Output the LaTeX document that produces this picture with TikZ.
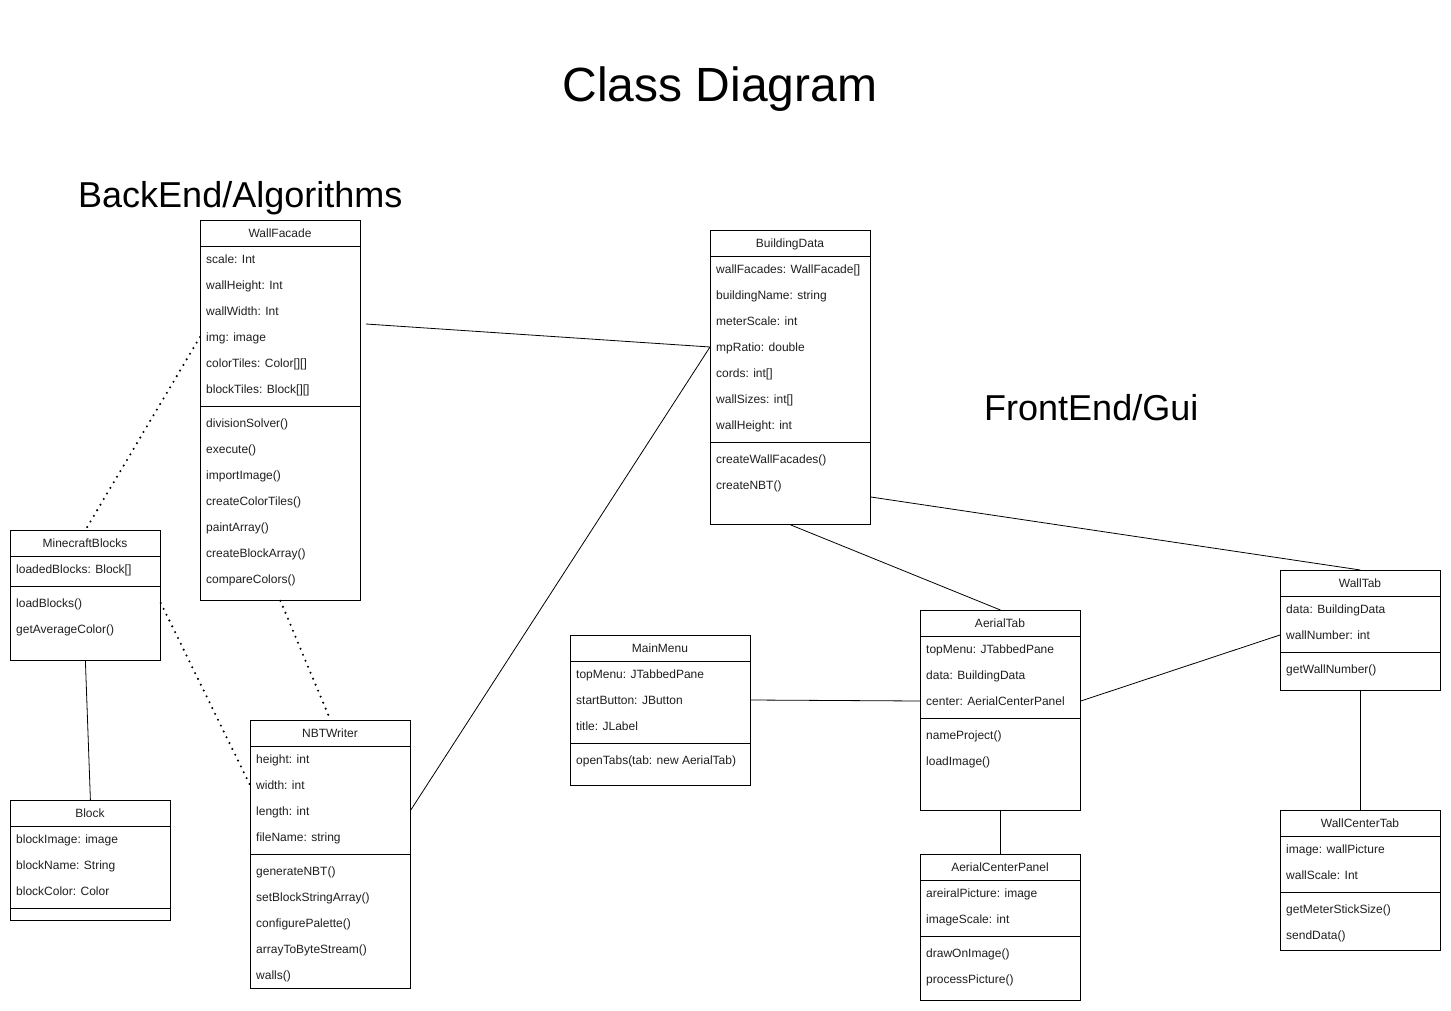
\documentclass[tikz,border=0pt]{standalone}
\usepackage{fontspec}
\setmainfont{Liberation Sans}
\usetikzlibrary{calc}
\tikzset{
  classbox/.style={draw=black, line width=0.8pt, fill=white, rectangle, inner sep=0pt, anchor=north west},
  divider/.style={draw=black, line width=0.8pt},
  attr/.style={anchor=base west, inner sep=0pt, text=black!88, font=\fontsize{12}{14}\selectfont},
  ctitle/.style={anchor=base, inner sep=0pt, text=black!88, font=\fontsize{12}{14}\selectfont},
  assoc/.style={draw=black, line width=0.8pt},
  dep/.style={draw=black, line width=2.3pt, line cap=round, dash pattern=on 0pt off 6.5pt},
  bigtitle/.style={anchor=base, inner sep=0pt, font=\fontsize{48}{56}\selectfont},
  sectitle/.style={anchor=base west, inner sep=0pt, font=\fontsize{36}{42}\selectfont},
}
% #1 name, #2 x, #3 y, #4 w, #5 h, #6 title
\newcommand\umlcls[6]{%
  \node[classbox, minimum width=#4pt, minimum height=#5pt] (#1) at (#2,#3) {};
  \node[ctitle] (#1-t) at (#2+#4/2,#3+17.5) {#6};
  \draw[divider] (#2,#3+26) -- (#2+#4,#3+26);
}
% #1 name prefix, #2 x, #3 first row y (centre), #4 list
\newcommand\umlrows[4]{%
  \foreach \txt [count=\i from 0] in {#4} {
    \node[attr] (#1-\i) at (#2+6,#3+4.5+26*\i) {\txt};
  }
}
\newcommand\umlsep[3]{\draw[divider] (#1,#3) -- (#1+#2,#3);}
\begin{document}
\begin{tikzpicture}[x=1pt,y=-1pt]
\useasboundingbox (0,0) rectangle (1451,1011);
\fill[white] (0,0) rectangle (1451,1011);

% titles
\node[bigtitle] (title) at (720,102) {Class Diagram};
\node[sectitle] (back) at (78,208) {BackEnd/Algorithms};
\node[sectitle] (front) at (984,420) {FrontEnd/Gui};

% WallFacade
\umlcls{wf}{200}{220}{160}{380}{WallFacade}
\umlrows{wfa}{200}{259}{{scale: Int},{wallHeight: Int},{wallWidth: Int},{img: image},{colorTiles: Color[][]},{blockTiles: Block[][]}}
\umlsep{200}{160}{406}
\umlrows{wfm}{200}{423}{{divisionSolver()},{execute()},{importImage()},{createColorTiles()},{paintArray()},{createBlockArray()},{compareColors()}}

% MinecraftBlocks
\umlcls{mb}{10}{530}{150}{130}{MinecraftBlocks}
\umlrows{mba}{10}{569}{{loadedBlocks: Block[]}}
\umlsep{10}{150}{586}
\umlrows{mbm}{10}{603}{{loadBlocks()},{getAverageColor()}}

% Block
\umlcls{bl}{10}{800}{160}{120}{Block}
\umlrows{bla}{10}{839}{{blockImage: image},{blockName: String},{blockColor: Color}}
\umlsep{10}{160}{908}

% NBTWriter
\umlcls{nbt}{250}{720}{160}{268}{NBTWriter}
\umlrows{nbta}{250}{759}{{height: int},{width: int},{length: int},{fileName: string}}
\umlsep{250}{160}{854}
\umlrows{nbtm}{250}{871}{{generateNBT()},{setBlockStringArray()},{configurePalette()},{arrayToByteStream()},{walls()}}

% BuildingData
\umlcls{bd}{710}{230}{160}{294}{BuildingData}
\umlrows{bda}{710}{269}{{wallFacades: WallFacade[]},{buildingName: string},{meterScale: int},{mpRatio: double},{cords: int[]},{wallSizes: int[]},{wallHeight: int}}
\umlsep{710}{160}{442}
\umlrows{bdm}{710}{459}{{createWallFacades()},{createNBT()}}

% MainMenu
\umlcls{mm}{570}{635}{180}{150}{MainMenu}
\umlrows{mma}{570}{674}{{topMenu: JTabbedPane},{startButton: JButton},{title: JLabel}}
\umlsep{570}{180}{743}
\umlrows{mmm}{570}{760}{{openTabs(tab: new AerialTab)}}

% AerialTab
\umlcls{at}{920}{610}{160}{200}{AerialTab}
\umlrows{ata}{920}{649}{{topMenu: JTabbedPane},{data: BuildingData},{center: AerialCenterPanel}}
\umlsep{920}{160}{718}
\umlrows{atm}{920}{735}{{nameProject()},{loadImage()}}

% AerialCenterPanel
\umlcls{acp}{920}{854}{160}{146}{AerialCenterPanel}
\umlrows{acpa}{920}{893}{{areiralPicture: image},{imageScale: int}}
\umlsep{920}{160}{936}
\umlrows{acpm}{920}{953}{{drawOnImage()},{processPicture()}}

% WallTab
\umlcls{wt}{1280}{570}{160}{120}{WallTab}
\umlrows{wta}{1280}{609}{{data: BuildingData},{wallNumber: int}}
\umlsep{1280}{160}{652}
\umlrows{wtm}{1280}{669}{{getWallNumber()}}

% WallCenterTab
\umlcls{wct}{1280}{810}{160}{140}{WallCenterTab}
\umlrows{wcta}{1280}{849}{{image: wallPicture},{wallScale: Int}}
\umlsep{1280}{160}{892}
\umlrows{wctm}{1280}{909}{{getMeterStickSize()},{sendData()}}

% connectors
\coordinate (bdin) at ($(bd.north west)+(0,117)$);
\draw[assoc] ($(wf.north east)+(5,104)$) -- (bdin);
\draw[assoc] ($(nbt.north east)+(0,90)$) -- (bdin);
\draw[dep] ($(wf.north west)+(0,117)$) -- (mb.north);
\draw[dep] ($(mb.north east)+(0,73)$) -- ($(nbt.north west)+(0,65)$);
\draw[dep] (wf.south) -- (nbt.north);
\draw[assoc] (mb.south) -- (bl.north);
\draw[assoc] (bd.south) -- (at.north);
\draw[assoc] ($(bd.north east)+(0,267)$) -- (wt.north);
\draw[assoc] ($(mm.north east)+(0,65)$) -- ($(at.north west)+(0,91)$);
\draw[assoc] ($(at.north east)+(0,91)$) -- ($(wt.north west)+(0,65)$);
\draw[assoc] (at.south) -- (acp.north);
\draw[assoc] (wt.south) -- (wct.north);
\end{tikzpicture}
\end{document}
